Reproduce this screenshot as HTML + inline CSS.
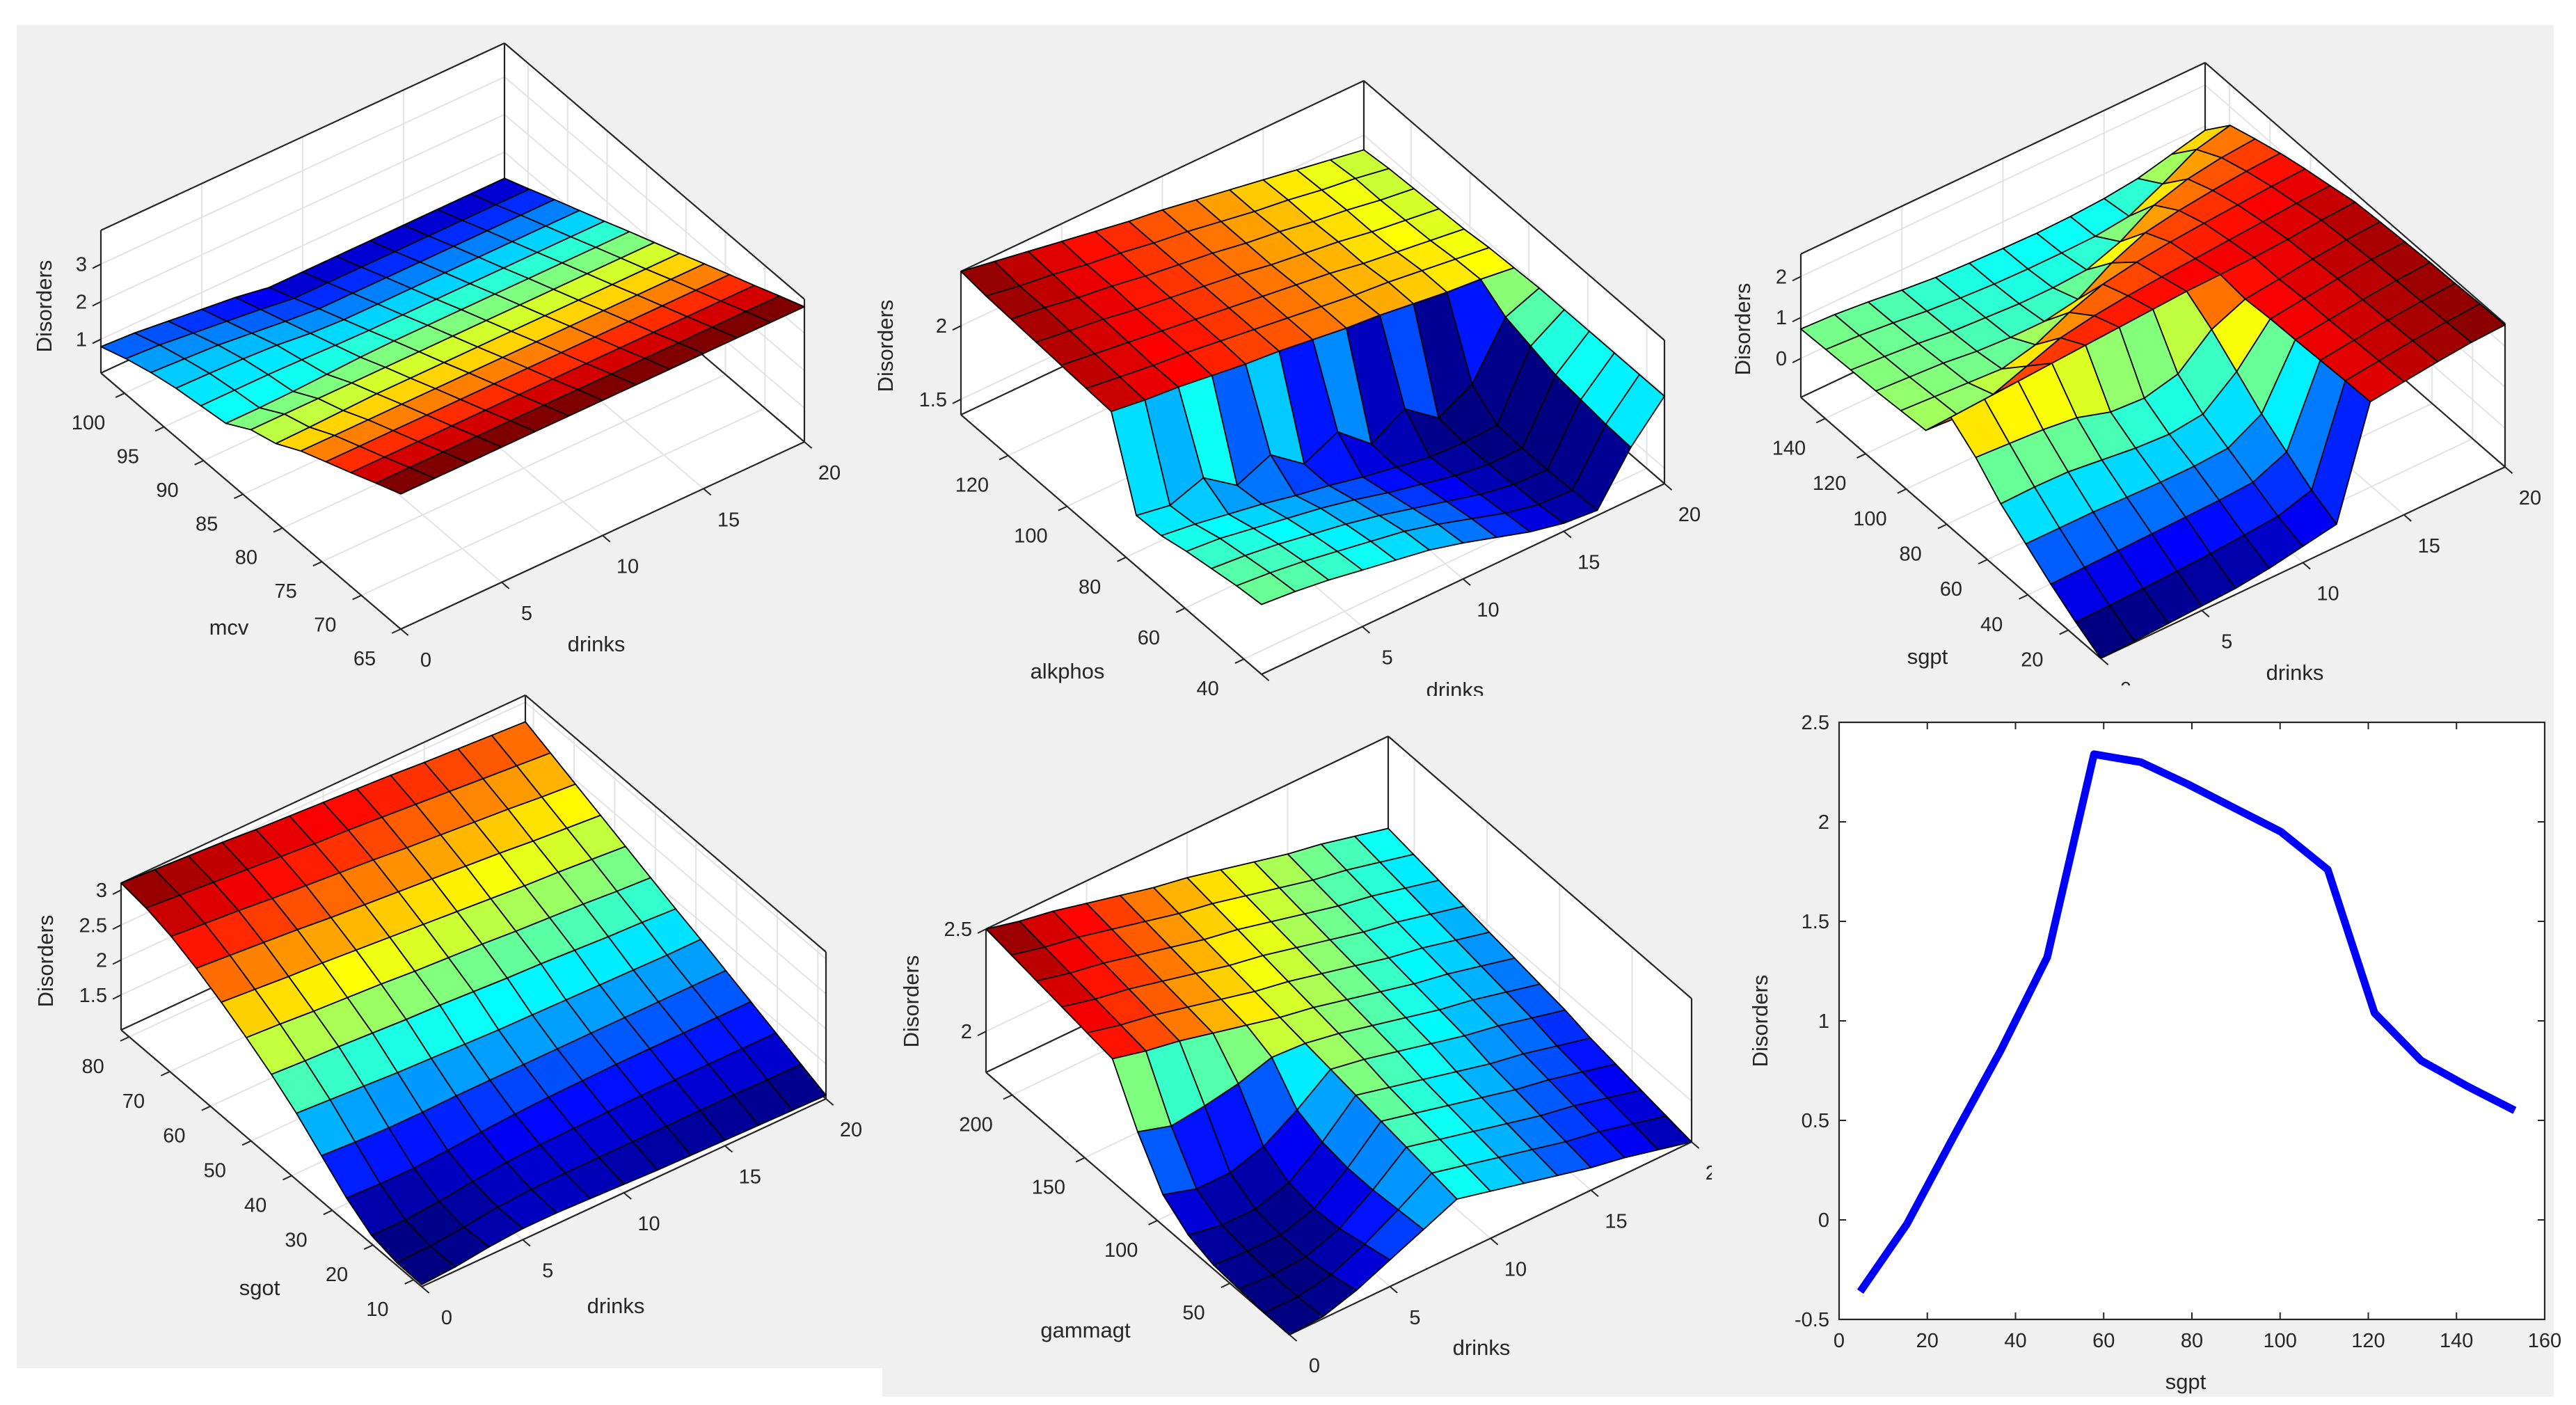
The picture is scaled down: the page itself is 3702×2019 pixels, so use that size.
<!DOCTYPE html>
<html><head><meta charset="utf-8">
<style>
html,body{margin:0;padding:0;background:#fff;}
svg{display:block;font-family:"Liberation Sans",Arial,sans-serif;}
</style></head>
<body>
<svg id="root" width="3702" height="2019" viewBox="0 0 3702 2019" xmlns="http://www.w3.org/2000/svg"></svg>
<script>
// ---------- DATA ----------
const drinksTicks = [0, 5, 10, 15, 20];
const drinksGrid = [0, 1.667, 3.333, 5, 6.667, 8.333, 10, 11.667, 13.333, 15, 16.667, 18.333, 20];

const mcvTicks = [65, 70, 75, 80, 85, 90, 95, 100];
const mcvZTicks = [1, 2, 3];
const mcvZ = [
 [3.70,3.70,3.70,3.70,3.70,3.70,3.70,3.70,3.70,3.70,3.70,3.70,3.70],
 [3.42,3.42,3.42,3.42,3.42,3.42,3.42,3.42,3.42,3.42,3.42,3.42,3.42],
 [3.13,3.13,3.13,3.13,3.13,3.13,3.13,3.13,3.13,3.13,3.13,3.13,3.13],
 [2.85,2.85,2.85,2.85,2.85,2.85,2.85,2.85,2.85,2.85,2.85,2.85,2.85],
 [2.57,2.57,2.57,2.57,2.57,2.57,2.57,2.57,2.57,2.57,2.57,2.57,2.57],
 [2.20,2.22,2.25,2.28,2.28,2.28,2.28,2.28,2.28,2.28,2.28,2.28,2.28],
 [2.00,2.00,2.00,2.00,2.00,2.00,2.00,2.00,2.00,2.00,2.00,2.00,2.00],
 [1.60,1.60,1.62,1.66,1.70,1.72,1.72,1.72,1.72,1.72,1.72,1.72,1.72],
 [1.50,1.50,1.50,1.48,1.45,1.43,1.43,1.43,1.43,1.43,1.43,1.43,1.43],
 [1.40,1.38,1.35,1.30,1.20,1.15,1.15,1.15,1.15,1.15,1.15,1.15,1.15],
 [1.25,1.20,1.15,1.05,0.95,0.87,0.87,0.87,0.87,0.87,0.87,0.87,0.87],
 [1.05,1.00,0.90,0.80,0.70,0.58,0.58,0.58,0.58,0.58,0.58,0.58,0.58],
 [0.80,0.75,0.65,0.55,0.45,0.30,0.30,0.30,0.30,0.30,0.30,0.30,0.30]
];

const alkTicks = [40, 60, 80, 100, 120];
const alkZTicks = [1.5, 2];
const alkZ = [
 [1.87,1.85,1.82,1.78,1.74,1.70,1.64,1.57,1.50,1.45,1.43,1.75,1.99],
 [1.85,1.83,1.80,1.76,1.72,1.68,1.62,1.55,1.48,1.43,1.42,1.76,1.99],
 [1.82,1.80,1.77,1.73,1.69,1.64,1.58,1.52,1.46,1.42,1.41,1.78,1.99],
 [1.79,1.77,1.73,1.69,1.65,1.60,1.54,1.49,1.44,1.41,1.41,1.80,1.99],
 [1.75,1.72,1.68,1.64,1.59,1.55,1.50,1.46,1.42,1.41,1.42,1.85,1.99],
 [1.74,1.70,1.78,1.62,1.72,1.55,1.66,1.47,1.60,1.43,1.55,1.90,1.99],
 [2.30,2.27,2.25,2.22,2.19,2.17,2.14,2.11,2.09,2.06,2.03,2.01,1.98],
 [2.31,2.28,2.25,2.23,2.20,2.17,2.14,2.11,2.08,2.06,2.03,2.00,1.97],
 [2.32,2.29,2.26,2.23,2.20,2.17,2.14,2.11,2.08,2.04,2.01,1.98,1.95],
 [2.33,2.30,2.27,2.23,2.20,2.17,2.14,2.10,2.07,2.04,2.00,1.97,1.94],
 [2.34,2.31,2.27,2.24,2.20,2.17,2.14,2.10,2.07,2.03,2.00,1.96,1.93],
 [2.35,2.31,2.28,2.24,2.21,2.17,2.14,2.10,2.06,2.03,1.99,1.96,1.92],
 [2.37,2.33,2.29,2.25,2.21,2.17,2.14,2.10,2.06,2.02,1.98,1.94,1.90]
];

const sgptTicks3d = [20, 40, 60, 80, 100, 120, 140];
const sgptZTicks = [0, 1, 2];
const sgptZ = [
 [-0.95,-0.92,-0.88,-0.84,-0.80,-0.70,-0.55,-0.40,2.20,2.30,2.40,2.48,2.52],
 [-0.60,-0.58,-0.55,-0.52,-0.48,-0.42,-0.35,-0.10,2.18,2.28,2.38,2.45,2.50],
 [-0.20,-0.18,-0.16,-0.14,-0.12,-0.10,-0.05,0.30,2.15,2.25,2.35,2.42,2.47],
 [0.25,0.25,0.25,0.22,0.20,0.20,0.25,0.70,2.12,2.22,2.32,2.40,2.45],
 [0.70,0.72,0.70,0.60,0.50,0.45,0.55,1.20,2.10,2.20,2.30,2.38,2.42],
 [1.30,1.25,1.20,1.10,0.85,0.80,1.00,1.70,2.05,2.15,2.25,2.33,2.38],
 [1.75,1.80,1.85,1.90,1.95,2.00,2.05,2.10,2.12,2.15,2.20,2.28,2.33],
 [0.90,0.85,1.00,1.30,1.60,1.75,1.85,1.92,1.98,2.04,2.10,2.16,2.20],
 [0.85,0.80,0.75,0.70,0.90,1.30,1.60,1.75,1.85,1.92,1.98,2.04,2.08],
 [0.80,0.75,0.70,0.60,0.55,0.55,0.70,1.20,1.55,1.70,1.80,1.88,1.93],
 [0.78,0.72,0.65,0.55,0.50,0.45,0.45,0.50,0.80,1.30,1.55,1.68,1.75],
 [0.75,0.70,0.62,0.52,0.45,0.40,0.38,0.38,0.40,0.50,0.90,1.35,1.55],
 [0.72,0.68,0.60,0.50,0.42,0.38,0.35,0.33,0.35,0.40,0.50,0.70,0.90]
];

const sgotTicks = [10, 20, 30, 40, 50, 60, 70, 80];
const sgotZTicks = [1.5, 2, 2.5, 3];
const sgotZ = [
 [1.03,1.06,1.12,1.16,1.16,1.14,1.12,1.10,1.09,1.08,1.07,1.06,1.05],
 [1.04,1.05,1.10,1.16,1.19,1.20,1.20,1.20,1.20,1.20,1.20,1.19,1.19],
 [1.12,1.12,1.16,1.22,1.27,1.30,1.31,1.32,1.33,1.33,1.33,1.33,1.33],
 [1.35,1.33,1.33,1.36,1.40,1.43,1.45,1.46,1.47,1.47,1.47,1.47,1.47],
 [1.65,1.62,1.60,1.60,1.61,1.61,1.61,1.61,1.61,1.61,1.61,1.61,1.61],
 [1.95,1.92,1.89,1.86,1.84,1.82,1.80,1.79,1.78,1.77,1.76,1.75,1.75],
 [2.20,2.17,2.15,2.12,2.09,2.07,2.04,2.01,1.99,1.96,1.93,1.91,1.88],
 [2.42,2.39,2.35,2.32,2.29,2.25,2.22,2.19,2.15,2.12,2.09,2.05,2.02],
 [2.62,2.58,2.54,2.51,2.47,2.43,2.39,2.35,2.31,2.27,2.24,2.20,2.16],
 [2.80,2.76,2.72,2.68,2.63,2.59,2.55,2.51,2.47,2.43,2.38,2.34,2.30],
 [2.95,2.91,2.87,2.82,2.78,2.74,2.70,2.65,2.61,2.57,2.53,2.48,2.44],
 [3.05,3.01,2.97,2.93,2.89,2.85,2.82,2.78,2.74,2.70,2.66,2.62,2.58],
 [3.10,3.07,3.04,3.01,2.97,2.94,2.91,2.88,2.85,2.81,2.78,2.75,2.72]
];

const gammaTicks = [50, 100, 150, 200];
const gammaZTicks = [2, 2.5];
const gammaZ = [
 [1.80,1.81,1.86,1.93,2.00,2.07,2.03,1.99,1.95,1.91,1.88,1.84,1.80],
 [1.80,1.80,1.83,1.90,1.99,2.09,2.05,2.01,1.97,1.93,1.90,1.86,1.82],
 [1.81,1.80,1.81,1.87,1.98,2.11,2.07,2.03,1.99,1.95,1.92,1.88,1.84],
 [1.82,1.81,1.81,1.86,1.98,2.13,2.09,2.05,2.01,1.97,1.94,1.90,1.86],
 [1.86,1.83,1.83,1.88,2.00,2.15,2.11,2.07,2.03,1.99,1.96,1.92,1.88],
 [1.95,1.90,1.90,1.95,2.05,2.17,2.14,2.10,2.06,2.02,1.99,1.95,1.91],
 [2.15,2.10,2.12,2.15,2.20,2.19,2.16,2.12,2.08,2.04,2.01,1.97,1.93],
 [2.40,2.36,2.33,2.29,2.25,2.21,2.18,2.14,2.10,2.06,2.03,1.99,1.95],
 [2.42,2.38,2.35,2.31,2.27,2.23,2.20,2.16,2.12,2.08,2.05,2.01,1.97],
 [2.44,2.40,2.37,2.33,2.29,2.25,2.22,2.18,2.14,2.10,2.07,2.03,1.99],
 [2.46,2.42,2.39,2.35,2.31,2.27,2.24,2.20,2.16,2.12,2.09,2.05,2.01],
 [2.48,2.44,2.41,2.37,2.33,2.29,2.26,2.22,2.18,2.14,2.11,2.07,2.03],
 [2.50,2.46,2.43,2.39,2.35,2.31,2.28,2.24,2.20,2.16,2.13,2.09,2.05]
];

// 2D line chart data
const lineSgpt = [4.8, 15.4, 26, 36.6, 47.2, 57.8, 68.4, 79, 89.6, 100.2, 110.8, 121.4, 132, 142.6, 153.2];
const lineDisorders = [-0.36, -0.02, 0.42, 0.85, 1.32, 2.34, 2.30, 2.19, 2.07, 1.95, 1.76, 1.04, 0.80, 0.67, 0.55];
const lineXTicks = [0, 20, 40, 60, 80, 100, 120, 140, 160];
const lineYTicks = [-0.5, 0, 0.5, 1, 1.5, 2, 2.5];

// ---------- RENDER ----------
const NS = 'http://www.w3.org/2000/svg';
const root = document.getElementById('root');
function mk(tag, attrs, parent) {
  const e = document.createElementNS(NS, tag);
  for (const k in attrs) e.setAttribute(k, attrs[k]);
  (parent || root).appendChild(e);
  return e;
}
function jet(t) {
  t = Math.max(0, Math.min(1, t));
  const c = x => Math.round(255 * Math.max(0, Math.min(1, x)));
  return 'rgb(' + c(1.5 - Math.abs(4 * t - 3)) + ',' + c(1.5 - Math.abs(4 * t - 2)) + ',' + c(1.5 - Math.abs(4 * t - 1)) + ')';
}
const TXT = '#262626';

function bgRect(x, y, w, h, name) {
  const r = mk('rect', {x: x, y: y, width: w, height: h, fill: '#f0f0f0'});
  
  
}

function surfacePanel(cfg) {
  const g = mk('g', {});
  
  
  const F = cfg.F, R = cfg.R, L = cfg.L, H = cfg.H;
  const z0 = cfg.zlim[0], z1 = cfg.zlim[1];
  const v0 = cfg.vlim[0], v1 = cfg.vlim[1];
  const dmax = drinksGrid[drinksGrid.length - 1];
  const P = (d, vv, z) => {
    const u = d / dmax, v = (vv - v0) / (v1 - v0), zf = (z - z0) / (z1 - z0);
    return [F[0] + u * (R[0] - F[0]) + v * (L[0] - F[0]), F[1] + u * (R[1] - F[1]) + v * (L[1] - F[1]) - zf * H];
  };
  const pt = p => p[0].toFixed(1) + ',' + p[1].toFixed(1);
  const hex = [P(0, v0, z0), P(dmax, v0, z0), P(dmax, v0, z1), P(dmax, v1, z1), P(0, v1, z1), P(0, v1, z0)];
  const bg = mk('polygon', {points: hex.map(pt).join(' '), fill: '#ffffff'}, g);
  
  
  const gridG = mk('g', {stroke: '#e3e3e3', 'stroke-width': 2, fill: 'none'}, g);
  
  
  const line = (a, b, par, attrs) => mk('line', Object.assign({x1: a[0], y1: a[1], x2: b[0], y2: b[1]}, attrs || {}), par);
  drinksTicks.forEach(d => { line(P(d, v0, z0), P(d, v1, z0), gridG); line(P(d, v1, z0), P(d, v1, z1), gridG); });
  cfg.vticks.forEach(v => { line(P(0, v, z0), P(dmax, v, z0), gridG); line(P(dmax, v, z0), P(dmax, v, z1), gridG); });
  cfg.zticks.forEach(z => { line(P(0, v1, z), P(dmax, v1, z), gridG); line(P(dmax, v1, z), P(dmax, v0, z), gridG); });
  const boxG = mk('g', {stroke: TXT, 'stroke-width': 2.2, fill: 'none'}, g);
  
  
  line(P(0, v1, z0), P(dmax, v1, z0), boxG);
  line(P(dmax, v1, z0), P(dmax, v0, z0), boxG);
  line(P(dmax, v1, z0), P(dmax, v1, z1), boxG);
  line(P(0, v1, z1), P(dmax, v1, z1), boxG);
  line(P(dmax, v1, z1), P(dmax, v0, z1), boxG);
  line(P(0, v1, z0), P(0, v1, z1), boxG);
  line(P(dmax, v0, z0), P(dmax, v0, z1), boxG);
  line(P(0, v0, z0), P(0, v1, z0), boxG);
  line(P(0, v0, z0), P(dmax, v0, z0), boxG);
  const Z = cfg.z;
  const nr = Z.length, nc = Z[0].length;
  let zmn = Infinity, zmx = -Infinity;
  Z.forEach(r => r.forEach(v => { zmn = Math.min(zmn, v); zmx = Math.max(zmx, v); }));
  const vAt = r => v0 + (v1 - v0) * r / (nr - 1);
  const faces = [];
  for (let r = 0; r < nr - 1; r++) for (let c = 0; c < nc - 1; c++) {
    const corners = [[r, c], [r, c + 1], [r + 1, c + 1], [r + 1, c]];
    const pts = corners.map(([rr, cc]) => P(drinksGrid[cc], vAt(rr), Z[rr][cc]));
    const cval = Z[r][c];
    const depth = P((drinksGrid[c] + drinksGrid[c + 1]) / 2, (vAt(r) + vAt(r + 1)) / 2, z0)[1];
    faces.push({pts, cval, depth});
  }
  faces.sort((a, b) => a.depth - b.depth);
  const sg = mk('g', {stroke: '#000', 'stroke-width': 1.8, 'stroke-linejoin': 'round'}, g);
  
  
  faces.forEach(f => {
    const p = mk('polygon', {points: f.pts.map(pt).join(' '), fill: jet((f.cval - zmn) / (zmx - zmn))}, sg);
    
    
  });
  const tg = mk('g', {fill: TXT, 'font-size': 29, 'text-anchor': 'middle'}, g);
  
  
  const tkG = mk('g', {stroke: TXT, 'stroke-width': 2}, g);
  
  
  const ux = (R[0] - F[0]), uy = (R[1] - F[1]), ul = Math.hypot(ux, uy);
  const vx = (L[0] - F[0]), vy = (L[1] - F[1]), vl = Math.hypot(vx, vy);
  cfg.vticks.forEach(v => {
    const p = P(0, v, z0);
    line(p, [p[0] - ux / ul * 14, p[1] - uy / ul * 14], tkG);
    const t = mk('text', {x: p[0] - 52, y: p[1] + 52}, tg);
    t.textContent = v;
    
    
  });
  drinksTicks.forEach(d => {
    const p = P(d, v0, z0);
    line(p, [p[0] - vx / vl * 14, p[1] - vy / vl * 14], tkG);
    const t = mk('text', {x: p[0] + 36, y: p[1] + 54}, tg);
    t.textContent = d;
    
    
  });
  cfg.zticks.forEach(z => {
    const p = P(0, v1, z);
    line(p, [p[0] - 12, p[1] + 6], tkG);
    const t = mk('text', {x: p[0] - 20, y: p[1] + 10, 'text-anchor': 'end'}, tg);
    t.textContent = z;
    
    
  });
  const lg = mk('g', {fill: TXT, 'font-size': 31, 'text-anchor': 'middle'}, g);
  const a1 = mk('text', {x: cfg.vLab[0], y: cfg.vLab[1] + 10}, lg);
  a1.textContent = cfg.vname;
  
  
  const a2 = mk('text', {x: cfg.dLab[0], y: cfg.dLab[1] + 10}, lg);
  a2.textContent = 'drinks';
  
  
  const a3 = mk('text', {x: cfg.zLab[0] + 10, y: cfg.zLab[1], transform: 'rotate(-90 ' + (cfg.zLab[0] + 10) + ' ' + cfg.zLab[1] + ')'}, lg);
  a3.textContent = 'Disorders';
  
  
}

bgRect(24, 36, 3646, 1930, 'figure-background');
bgRect(1268, 1966, 2402, 41, 'figure-background-bottom');

surfacePanel({name: 'surface-mcv', vname: 'mcv', z: mcvZ, vticks: mcvTicks, zticks: mcvZTicks,
  vlim: [65, 103], zlim: [0.1, 3.9], F: [576, 904], R: [1156, 635], L: [145, 536], H: 205,
  vLab: [329, 902], dLab: [857, 926], zLab: [64, 440]});
surfacePanel({name: 'surface-alkphos', vname: 'alkphos', z: alkZ, vticks: alkTicks, zticks: alkZTicks,
  vlim: [34, 136], zlim: [1.395, 2.37], F: [1813, 969], R: [2392, 695], L: [1381, 596], H: 206,
  vLab: [1534, 965], dLab: [2091, 992], zLab: [1273, 497]});
surfacePanel({name: 'surface-sgpt', vname: 'sgpt', z: sgptZ, vticks: sgptTicks3d, zticks: sgptZTicks,
  vlim: [4, 152], zlim: [-0.95, 2.55], F: [3019, 946], R: [3600, 671], L: [2588, 571], H: 206,
  vLab: [2770, 944], dLab: [3298, 967], zLab: [2505, 473]});
surfacePanel({name: 'surface-sgot', vname: 'sgot', z: sgotZ, vticks: sgotTicks, zticks: sgotZTicks,
  vlim: [8, 82], zlim: [1.0, 3.1], F: [606, 1849], R: [1187, 1579], L: [174, 1480], H: 211,
  vLab: [373, 1851], dLab: [885, 1877], zLab: [66, 1381]});
bgRect(1268, 1000, 1192, 1007, 'panel-background-gammagt');
surfacePanel({name: 'surface-gammagt', vname: 'gammagt', z: gammaZ, vticks: gammaTicks, zticks: gammaZTicks,
  vlim: [9, 218], zlim: [1.8, 2.5], F: [1853, 1918], R: [2431, 1641], L: [1417, 1541], H: 206,
  vLab: [1560, 1912], dLab: [2129, 1937], zLab: [1310, 1439]});
bgRect(2460, 985, 1210, 1022, 'panel-background-line');

(function () {
  const X0 = 2643, X1 = 3657, Y0 = 1038, Y1 = 1896;
  const xmin = 0, xmax = 160, ymin = -0.5, ymax = 2.5;
  const sx = x => X0 + (x - xmin) / (xmax - xmin) * (X1 - X0);
  const sy = y => Y1 - (y - ymin) / (ymax - ymin) * (Y1 - Y0);
  const g = mk('g', {});
  
  
  const ax = mk('rect', {x: X0, y: Y0, width: X1 - X0, height: Y1 - Y0, fill: '#fff', stroke: TXT, 'stroke-width': 2.2}, g);
  
  
  const tk = mk('g', {stroke: TXT, 'stroke-width': 2}, g);
  
  
  const lab = mk('g', {fill: TXT, 'font-size': 29}, g);
  lineXTicks.forEach(v => {
    const x = sx(v);
    mk('line', {x1: x, y1: Y1, x2: x, y2: Y1 - 10}, tk);
    mk('line', {x1: x, y1: Y0, x2: x, y2: Y0 + 10}, tk);
    const t = mk('text', {x: x, y: Y1 + 40, 'text-anchor': 'middle'}, lab);
    t.textContent = v;
    
    
  });
  lineYTicks.forEach(v => {
    const y = sy(v);
    mk('line', {x1: X0, y1: y, x2: X0 + 10, y2: y}, tk);
    mk('line', {x1: X1, y1: y, x2: X1 - 10, y2: y}, tk);
    const t = mk('text', {x: X0 - 14, y: y + 10, 'text-anchor': 'end'}, lab);
    t.textContent = v;
    
    
  });
  const pts = lineSgpt.map((x, i) => sx(x).toFixed(1) + ',' + sy(lineDisorders[i]).toFixed(1)).join(' ');
  const pl = mk('polyline', {points: pts, fill: 'none', stroke: '#0000ff', 'stroke-width': 11, 'stroke-linejoin': 'round'}, g);
  
  
  const xt = mk('text', {x: 3141, y: 1996, 'text-anchor': 'middle', fill: TXT, 'font-size': 31}, g);
  xt.textContent = 'sgpt';
  
  
  const yt = mk('text', {x: 2540, y: 1467, 'text-anchor': 'middle', fill: TXT, 'font-size': 31, transform: 'rotate(-90 2540 1467)'}, g);
  yt.textContent = 'Disorders';
  
  
})();
</script>
</body></html>
